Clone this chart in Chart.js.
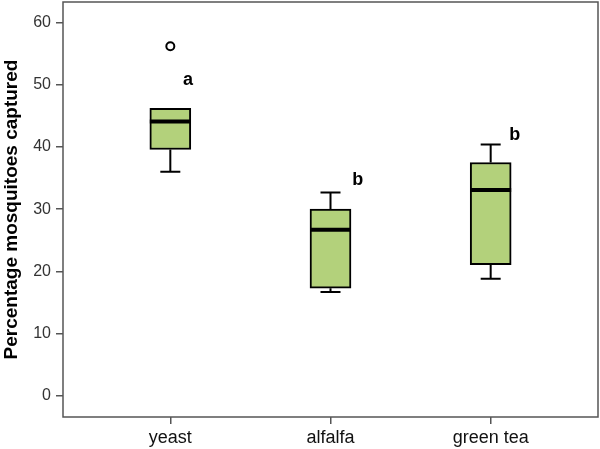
<!DOCTYPE html>
<html>
<head>
<meta charset="utf-8">
<script src="https://cdn.jsdelivr.net/npm/chart.js@4.4.1/dist/chart.umd.min.js"></script>
<style>
  html, body { margin: 0; padding: 0; background: #fff; }
</style>
</head>
<body>
<canvas id="boxChart" width="600" height="449"></canvas>
<script>
// Box plot values
const groups = ['yeast', 'alfalfa', 'green tea'];
const whiskerLow = [36.0, 16.7, 18.8];
const q1 = [39.6, 17.3, 21.1];
const median = [44.1, 26.7, 33.1];
const q3 = [46.2, 30.0, 37.5];
const whiskerHigh = [46.2, 32.7, 40.4];
const outliers = [56.2, null, null];
// significance letters and where they sit (data units)
const letters = ['a', 'b', 'b'];
const letterX = [1.11, 2.17, 3.15];
const letterY = [50.8, 34.7, 41.9];
const yTicks = [0, 10, 20, 30, 40, 50, 60];

const FONT = '"Liberation Sans", Arial, sans-serif';
const AXIS_GREY = '#555';

// whiskers, caps, medians and letters
const boxParts = {
    id: 'boxParts',
    afterDatasetsDraw(chart) {
        const ctx = chart.ctx;
        const xs = chart.scales.x;
        const ys = chart.scales.y;
        const bars = chart.getDatasetMeta(0).data;
        const cap = 10;
        ctx.save();
        ctx.strokeStyle = '#000';
        groups.forEach((g, i) => {
            const cx = xs.getPixelForValue(i + 1);
            const half = bars[i].width / 2;
            ctx.lineWidth = 2;
            [[q3[i], whiskerHigh[i]], [q1[i], whiskerLow[i]]].forEach(([from, to]) => {
                if (from === to) return;
                const y1 = ys.getPixelForValue(from);
                const y2 = ys.getPixelForValue(to);
                ctx.beginPath();
                ctx.moveTo(cx, y1);
                ctx.lineTo(cx, y2);
                ctx.moveTo(cx - cap, y2);
                ctx.lineTo(cx + cap, y2);
                ctx.stroke();
            });
            ctx.lineWidth = 4;
            const ym = ys.getPixelForValue(median[i]);
            ctx.beginPath();
            ctx.moveTo(cx - half, ym);
            ctx.lineTo(cx + half, ym);
            ctx.stroke();
        });
        ctx.fillStyle = '#000';
        ctx.font = 'bold 18px ' + FONT;
        ctx.textAlign = 'center';
        ctx.textBaseline = 'middle';
        letters.forEach((t, i) => {
            ctx.fillText(t, xs.getPixelForValue(letterX[i]), ys.getPixelForValue(letterY[i]));
        });
        ctx.restore();
    }
};

// frame round the plot area
const frame = {
    id: 'frame',
    afterDraw(chart) {
        const a = chart.chartArea;
        const ctx = chart.ctx;
        ctx.save();
        ctx.strokeStyle = AXIS_GREY;
        ctx.lineWidth = 1.5;
        ctx.strokeRect(a.left, a.top, a.right - a.left, a.bottom - a.top);
        ctx.restore();
    }
};

const ctx = document.getElementById('boxChart').getContext('2d');

new Chart(ctx, {
    type: 'bar',
    data: {
        datasets: [{
            type: 'bar',
            data: groups.map((g, i) => ({ x: i + 1, y: [q1[i], q3[i]] })),
            backgroundColor: '#b3d17b',
            borderColor: '#000',
            borderWidth: 2,
            borderSkipped: false,
            barThickness: 41
        }, {
            type: 'scatter',
            data: outliers.map((v, i) => ({ x: i + 1, y: v })).filter(p => p.y !== null),
            pointStyle: 'circle',
            pointRadius: 4,
            borderWidth: 2,
            borderColor: '#000',
            backgroundColor: '#fff'
        }]
    },
    options: {
        responsive: false,
        animation: false,
        layout: {
            autoPadding: false,
            padding: { top: 2, right: 2, left: 0, bottom: 0 }
        },
        plugins: {
            legend: { display: false },
            tooltip: { enabled: false }
        },
        scales: {
            x: {
                type: 'linear',
                min: 0.33,
                max: 3.67,
                offset: false,
                afterBuildTicks: s => { s.ticks = groups.map((g, i) => ({ value: i + 1 })); },
                afterFit: s => { s.height = 32; s.paddingLeft = 0; s.paddingRight = 0; },
                grid: {
                    display: true,
                    offset: false,
                    drawOnChartArea: false,
                    drawTicks: true,
                    tickLength: 7,
                    color: AXIS_GREY,
                    lineWidth: 1.5
                },
                border: { display: false },
                ticks: {
                    callback: v => groups[v - 1],
                    color: '#111',
                    font: { size: 18, family: FONT },
                    padding: 3,
                    maxRotation: 0,
                    autoSkip: false
                }
            },
            y: {
                min: -3.4,
                max: 63.3,
                afterBuildTicks: s => { s.ticks = yTicks.map(v => ({ value: v })); },
                afterFit: s => { s.width = 63; s.paddingTop = 0; s.paddingBottom = 0; },
                grid: {
                    display: true,
                    drawOnChartArea: false,
                    drawTicks: true,
                    tickLength: 7,
                    color: AXIS_GREY,
                    lineWidth: 1.5
                },
                border: { display: false },
                ticks: {
                    color: '#333',
                    font: { size: 16, family: FONT },
                    padding: 5
                },
                title: {
                    display: true,
                    text: 'Percentage mosquitoes captured',
                    color: '#000',
                    font: { size: 19, weight: 'bold', family: FONT },
                    padding: 0
                }
            }
        }
    },
    plugins: [boxParts, frame]
});
</script>
</body>
</html>
